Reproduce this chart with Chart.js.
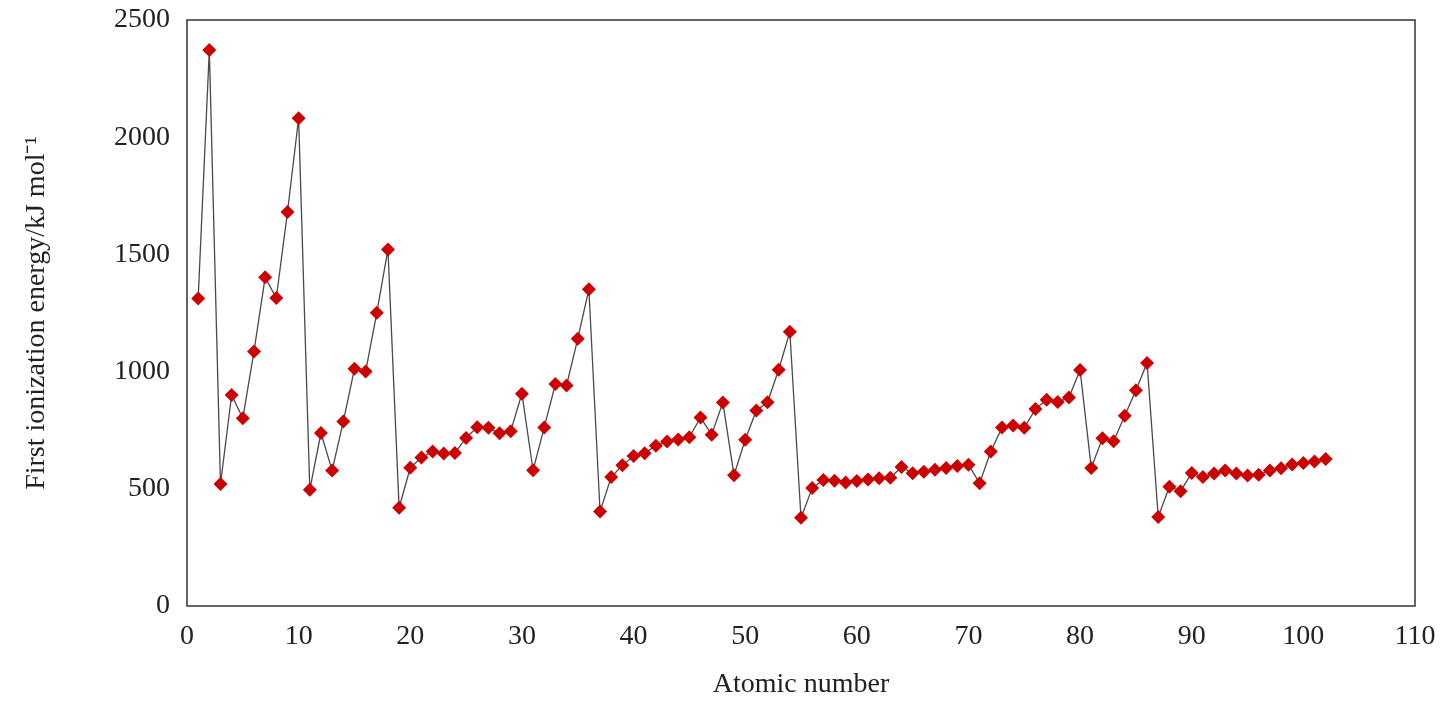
<!DOCTYPE html>
<html>
<head>
<meta charset="utf-8">
<title>First ionization energy</title>
<script src="https://cdn.jsdelivr.net/npm/chart.js@4/dist/chart.umd.min.js"></script>
<style>
  html, body { margin: 0; padding: 0; background: #fff; }
  #wrap { width: 1443px; height: 701px; }
</style>
</head>
<body>
<div id="wrap"><canvas id="ieChart" width="1443" height="701"></canvas></div>
<script>
// atomic numbers 1..102
const atomicNumbers = [];
for (let z = 1; z <= 102; z++) atomicNumbers.push(z);

// first ionization energies, kJ/mol
const energies = [
  1312, 2372, 520, 900, 801, 1086, 1402, 1314, 1681, 2081,
  496, 738, 578, 787, 1012, 1000, 1251, 1521, 419, 590,
  633, 659, 651, 653, 717, 763, 760, 737, 746, 906,
  579, 762, 947, 941, 1140, 1351, 403, 550, 600, 640,
  652, 684, 702, 710, 720, 804, 731, 868, 558, 709,
  834, 869, 1008, 1170, 376, 503, 538, 534, 527, 533,
  540, 545, 547, 593, 566, 573, 581, 589, 597, 603,
  524, 659, 761, 770, 760, 840, 880, 870, 890, 1007,
  589, 716, 703, 812, 920, 1037, 380, 509, 490, 567,
  550, 565, 578, 565, 557, 560, 578, 588, 604, 610,
  616, 627
];

const xTicks = [0, 10, 20, 30, 40, 50, 60, 70, 80, 90, 100, 110];
const yTicks = [0, 500, 1000, 1500, 2000, 2500];

const points = atomicNumbers.map((z, i) => ({ x: z, y: energies[i] }));

const serif = "'Liberation Serif', 'Times New Roman', serif";

// draws the closed frame round the plot area
const frameBox = {
  id: 'frameBox',
  afterDraw(chart) {
    const a = chart.chartArea;
    const ctx = chart.ctx;
    ctx.save();
    ctx.strokeStyle = '#333';
    ctx.lineWidth = 1.5;
    ctx.strokeRect(a.left, a.top, a.right - a.left, a.bottom - a.top);
    ctx.restore();
  }
};

new Chart(document.getElementById('ieChart'), {
  type: 'line',
  data: {
    datasets: [{
      data: points,
      borderColor: '#4a4a4a',
      borderWidth: 1.3,
      pointStyle: 'rectRot',
      pointRadius: 7,
      pointBackgroundColor: '#cc0000',
      pointBorderColor: '#cc0000',
      pointBorderWidth: 0,
      tension: 0,
      fill: false
    }]
  },
  options: {
    responsive: false,
    animation: false,
    layout: { padding: { left: 0, right: 28, top: 20, bottom: 0 } },
    plugins: {
      legend: { display: false },
      tooltip: { enabled: false }
    },
    scales: {
      x: {
        type: 'linear',
        min: 0,
        max: 110,
        afterBuildTicks: s => { s.ticks = xTicks.map(v => ({ value: v })); },
        afterFit: s => { s.height = 95; s.paddingLeft = 0; s.paddingRight = 0; },
        grid: { display: false, drawTicks: false },
        border: { display: false },
        ticks: {
          color: '#222',
          font: { family: serif, size: 28 },
          padding: 14,
          maxRotation: 0,
          callback: v => String(v)
        },
        title: {
          display: true,
          text: 'Atomic number',
          color: '#222',
          font: { family: serif, size: 28 },
          padding: { top: 0, bottom: 0 }
        }
      },
      y: {
        min: 0,
        max: 2500,
        afterBuildTicks: s => { s.ticks = yTicks.map(v => ({ value: v })); },
        afterFit: s => { s.width = 187; s.paddingTop = 0; s.paddingBottom = 0; },
        grid: { display: false, drawTicks: false },
        border: { display: false },
        ticks: {
          color: '#222',
          font: { family: serif, size: 28 },
          padding: 17,
          callback: v => String(v)
        },
        title: {
          display: true,
          text: 'First ionization energy/kJ mol\u207B\u00B9',
          color: '#222',
          font: { family: serif, size: 28 },
          padding: { top: 20, bottom: 0 }
        }
      }
    }
  },
  plugins: [frameBox]
});
</script>
</body>
</html>
